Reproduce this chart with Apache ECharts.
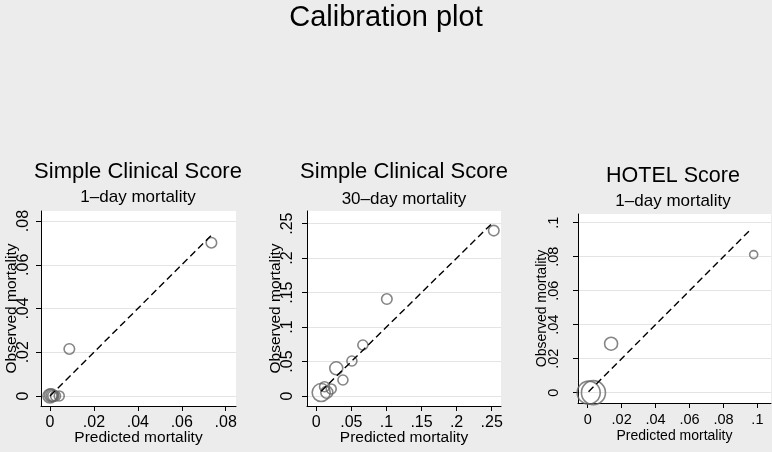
<!DOCTYPE html>
<html><head><meta charset="utf-8">
<script src="https://cdn.jsdelivr.net/npm/echarts@6/dist/echarts.min.js"></script>
<style>html,body{margin:0;padding:0;background:#ececec}#c{width:772px;height:452px}</style>
</head><body><div id="c"></div>
<script>
const mainTitle = 'Calibration plot';
const panelTitles = ['Simple Clinical Score', 'Simple Clinical Score', 'HOTEL Score'];
const panelSubtitles = ['1\u2013day mortality', '30\u2013day mortality', '1\u2013day mortality'];
const xName = 'Predicted mortality';
const yName = 'Observed mortality';

// Panel 1: Simple Clinical Score, 1-day
const p1Pred = [0.0735, 0.0088, 0.0000, 0.0005, 0.0010, 0.0015, 0.0025, 0.0042];
const p1Obs  = [0.0701, 0.0215, 0.0000, 0.0003, 0.0002, 0.0000, 0.0000, 0.0000];
const p1Line = [0.0000, 0.0735];
const p1Ticks = [0, 0.02, 0.04, 0.06, 0.08];

// Panel 2: Simple Clinical Score, 30-day
const p2Pred = [0.253, 0.1006, 0.0664, 0.0508, 0.0285, 0.0380, 0.0213, 0.0118, 0.0150, 0.0070];
const p2Obs  = [0.240, 0.1407, 0.0740, 0.0508, 0.0402, 0.0232, 0.0102, 0.0135, 0.0054, 0.0050];
const p2Line = [0.0070, 0.2530];
const p2Ticks = [0, 0.05, 0.1, 0.15, 0.2, 0.25];

// Panel 3: HOTEL Score, 1-day
const p3Pred = [0.0978, 0.0138, 0.0006, 0.0034];
const p3Obs  = [0.0812, 0.0288, 0.0000, 0.0000];
const p3Line = [0.0005, 0.0955];
const p3Ticks = [0, 0.02, 0.04, 0.06, 0.08, 0.1];

// marker diameters (style)
const p1Size = [10.5, 10.5, 14, 13, 12, 11, 10, 10];
const p2Size = [10.5, 10.5, 10, 10, 13, 10, 10, 10, 12, 18];
const p3Size = [8, 13, 23, 24];

const F = '"Liberation Sans", Arial, Helvetica, sans-serif';
const fmt = v => (Math.abs(v) < 1e-12 ? '0' : String(+v.toFixed(4)).replace(/^0\./, '.'));

function xAx(i, min, max, ticks, fs, margin, gap) {
  return {
    type: 'value', gridIndex: i, min: min, max: max,
    name: xName, nameLocation: 'middle', nameGap: gap, nameMoveOverlap: false,
    nameTextStyle: { fontSize: fs, color: '#000', fontFamily: F },
    axisLine: { show: true, onZero: false, lineStyle: { color: '#000', width: 1 } },
    axisTick: { show: true, length: 5, customValues: ticks, lineStyle: { color: '#000', width: 1 } },
    axisLabel: { customValues: ticks, formatter: fmt, fontSize: fs + 0.5, color: '#000', margin: margin, fontFamily: F },
    splitLine: { show: false }
  };
}
function yAx(i, min, max, ticks, fs, margin, gap) {
  return {
    type: 'value', gridIndex: i, min: min, max: max,
    name: yName, nameLocation: 'middle', nameGap: gap, nameRotate: 90, nameMoveOverlap: false,
    nameTextStyle: { fontSize: fs, color: '#000', fontFamily: F },
    axisLine: { show: true, onZero: false, lineStyle: { color: '#000', width: 1 } },
    axisTick: { show: true, length: 5, customValues: ticks, lineStyle: { color: '#000', width: 1 } },
    axisLabel: { customValues: ticks, formatter: fmt, fontSize: fs + 0.5, color: '#000', margin: margin, rotate: 90, fontFamily: F },
    splitLine: { show: true, lineStyle: { color: '#e4e4e4', width: 1 } }
  };
}
function scat(i, xs, ys, sizes) {
  return {
    type: 'scatter', xAxisIndex: i, yAxisIndex: i,
    data: xs.map((x, k) => ({ value: [x, ys[k]], symbolSize: sizes[k] })),
    symbol: 'circle',
    itemStyle: { color: 'rgba(0,0,0,0)', borderColor: '#666666', borderWidth: 1.6 },
    silent: true, z: 2
  };
}
function diag(i, line) {
  return {
    type: 'line', xAxisIndex: i, yAxisIndex: i,
    data: line.map(v => [v, v]), symbol: 'none',
    lineStyle: { color: '#000', width: 1.4, type: [7, 4] },
    silent: true, z: 3
  };
}

const grids = [
  { left: 41, top: 211, width: 195, height: 195 },
  { left: 307, top: 211, width: 194, height: 195 },
  { left: 578, top: 214, width: 193, height: 189 }
].map(g => Object.assign(g, { show: true, backgroundColor: '#fff', borderWidth: 0 }));

const option = {
  animation: false,
  backgroundColor: '#ececec',
  grid: grids,
  xAxis: [
    xAx(0, -0.0041, 0.0847, p1Ticks, 15.5, 9, 24),
    xAx(1, -0.0132, 0.2633, p2Ticks, 15.5, 9, 24),
    xAx(2, -0.0057, 0.108, p3Ticks, 14, 9, 26)
  ],
  yAxis: [
    yAx(0, -0.0046, 0.0846, p1Ticks, 15.5, 9, 21),
    yAx(1, -0.0145, 0.2684, p2Ticks, 15.5, 11, 23),
    yAx(2, -0.0061, 0.1051, p3Ticks, 14, 17, 29)
  ],
  series: [
    scat(0, p1Pred, p1Obs, p1Size), diag(0, p1Line),
    scat(1, p2Pred, p2Obs, p2Size), diag(1, p2Line),
    scat(2, p3Pred, p3Obs, p3Size), diag(2, p3Line)
  ],
  graphic: [
    { type: 'text', x: 386, y: 18, style: { text: mainTitle, font: '29px ' + F, fill: '#000', textAlign: 'center', textVerticalAlign: 'middle' } },
    { type: 'text', x: 138, y: 172, style: { text: panelTitles[0], font: '22px ' + F, fill: '#000', textAlign: 'center', textVerticalAlign: 'middle' } },
    { type: 'text', x: 138, y: 197, style: { text: panelSubtitles[0], font: '17px ' + F, fill: '#000', textAlign: 'center', textVerticalAlign: 'middle' } },
    { type: 'text', x: 404, y: 172, style: { text: panelTitles[1], font: '22px ' + F, fill: '#000', textAlign: 'center', textVerticalAlign: 'middle' } },
    { type: 'text', x: 404, y: 199, style: { text: panelSubtitles[1], font: '17px ' + F, fill: '#000', textAlign: 'center', textVerticalAlign: 'middle' } },
    { type: 'text', x: 673, y: 176, style: { text: panelTitles[2], font: '21.5px ' + F, fill: '#000', textAlign: 'center', textVerticalAlign: 'middle' } },
    { type: 'text', x: 673, y: 201, style: { text: panelSubtitles[2], font: '17px ' + F, fill: '#000', textAlign: 'center', textVerticalAlign: 'middle' } }
  ]
};
const chart = echarts.init(document.getElementById('c'), null, { renderer: 'canvas' });
chart.setOption(option);
</script>
</body></html>
